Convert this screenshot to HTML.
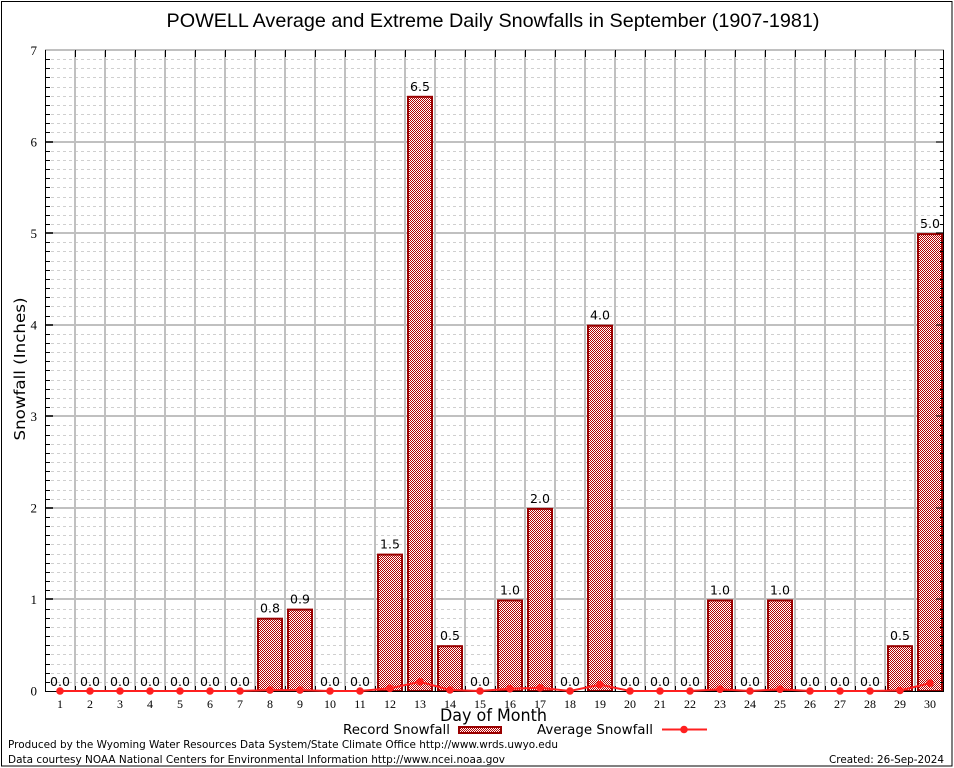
<!DOCTYPE html>
<html><head><meta charset="utf-8"><style>
html,body{margin:0;padding:0;background:#fff;}
svg{display:block;}
.t{font-family:"DejaVu Sans","Liberation Sans",sans-serif;}
.s{font-family:"Liberation Serif",serif;}
</style></head><body>
<svg width="954" height="768" viewBox="0 0 954 768" xmlns="http://www.w3.org/2000/svg">
<defs>
<pattern id="chk" width="2" height="2" patternUnits="userSpaceOnUse">
<rect width="2" height="2" fill="#fff"/>
<rect x="0" y="0" width="1" height="1" fill="#b40000"/>
<rect x="1" y="1" width="1" height="1" fill="#b40000"/>
</pattern>
</defs>
<rect x="0" y="0" width="954" height="768" fill="#fff"/>
<rect x="1.5" y="1.5" width="950.5" height="764.5" fill="none" stroke="#000" stroke-width="1"/>

<text x="493" y="27" class="t" style="font-family:'Liberation Sans',sans-serif" font-size="19.5" text-anchor="middle" textLength="653" lengthAdjust="spacingAndGlyphs">POWELL Average and Extreme Daily Snowfalls in September (1907-1981)</text>

<!-- minor dashed grid -->
<path stroke="#cfcfcf" stroke-width="1" stroke-dasharray="3,3" fill="none" d="
M45 682.5H944 M45 673.5H944 M45 664.5H944 M45 654.5H944 M45 645.5H944 M45 636.5H944 M45 627.5H944 M45 618.5H944 M45 609.5H944
M45 590.5H944 M45 581.5H944 M45 572.5H944 M45 563.5H944 M45 554.5H944 M45 544.5H944 M45 535.5H944 M45 526.5H944 M45 517.5H944
M45 499.5H944 M45 490.5H944 M45 480.5H944 M45 471.5H944 M45 462.5H944 M45 453.5H944 M45 444.5H944 M45 435.5H944 M45 425.5H944
M45 407.5H944 M45 398.5H944 M45 389.5H944 M45 380.5H944 M45 370.5H944 M45 361.5H944 M45 352.5H944 M45 343.5H944 M45 334.5H944
M45 316.5H944 M45 306.5H944 M45 297.5H944 M45 288.5H944 M45 279.5H944 M45 270.5H944 M45 261.5H944 M45 251.5H944 M45 242.5H944
M45 224.5H944 M45 215.5H944 M45 206.5H944 M45 197.5H944 M45 187.5H944 M45 178.5H944 M45 169.5H944 M45 160.5H944 M45 151.5H944
M45 132.5H944 M45 123.5H944 M45 114.5H944 M45 105.5H944 M45 96.5H944 M45 87.5H944 M45 77.5H944 M45 68.5H944 M45 59.5H944"/>
<!-- major horizontal grid -->
<path stroke="#c0c0c0" stroke-width="2" fill="none" d="M45 599H944 M45 508H944 M45 416H944 M45 325H944 M45 233H944 M45 142H944 M45 50H944"/>
<!-- vertical grid -->
<path stroke="#c0c0c0" stroke-width="2" fill="none" d="
M75 50V691 M105 50V691 M135 50V691 M165 50V691 M195 50V691 M225 50V691 M255 50V691 M285 50V691 M315 50V691 M345 50V691
M375 50V691 M405 50V691 M435 50V691 M465 50V691 M495 50V691 M525 50V691 M555 50V691 M585 50V691 M615 50V691 M645 50V691
M675 50V691 M705 50V691 M735 50V691 M765 50V691 M795 50V691 M825 50V691 M855 50V691 M885 50V691 M915 50V691"/>

<!-- bars -->
<g fill="url(#chk)" stroke="#990000" stroke-width="2">
<rect x="258" y="618.7" width="24" height="72.3"/>
<rect x="288" y="609.6" width="24" height="81.4"/>
<rect x="378" y="554.6" width="24" height="136.4"/>
<rect x="408" y="96.8" width="24" height="594.2"/>
<rect x="438" y="646.2" width="24" height="44.8"/>
<rect x="498" y="600.4" width="24" height="90.6"/>
<rect x="528" y="508.9" width="24" height="182.1"/>
<rect x="588" y="325.7" width="24" height="365.3"/>
<rect x="708" y="600.4" width="24" height="90.6"/>
<rect x="768" y="600.4" width="24" height="90.6"/>
<rect x="888" y="646.2" width="24" height="44.8"/>
<rect x="918" y="234.1" width="24" height="456.9"/>
</g>

<!-- axes -->
<g stroke="#000" stroke-width="1" fill="none">
<path d="M45.5 50V691.5 M943.5 50V691.5 M45 691.5H944"/>
<path d="M75.5 50V57 M105.5 50V57 M135.5 50V57 M165.5 50V57 M195.5 50V57 M225.5 50V57 M255.5 50V57 M285.5 50V57 M315.5 50V57 M345.5 50V57
M375.5 50V57 M405.5 50V57 M435.5 50V57 M465.5 50V57 M495.5 50V57 M525.5 50V57 M555.5 50V57 M585.5 50V57 M615.5 50V57 M645.5 50V57
M675.5 50V57 M705.5 50V57 M735.5 50V57 M765.5 50V57 M795.5 50V57 M825.5 50V57 M855.5 50V57 M885.5 50V57 M915.5 50V57"/>
<path d="M75.5 691V686 M105.5 691V686 M135.5 691V686 M165.5 691V686 M195.5 691V686 M225.5 691V686 M255.5 691V686 M285.5 691V686 M315.5 691V686 M345.5 691V686
M375.5 691V686 M405.5 691V686 M435.5 691V686 M465.5 691V686 M495.5 691V686 M525.5 691V686 M555.5 691V686 M585.5 691V686 M615.5 691V686 M645.5 691V686
M675.5 691V686 M705.5 691V686 M735.5 691V686 M765.5 691V686 M795.5 691V686 M825.5 691V686 M855.5 691V686 M885.5 691V686 M915.5 691V686"/>
<path stroke-width="1.5" d="M45 599H53 M45 508H53 M45 416H53 M45 325H53 M45 233H53 M45 142H53"/>
<path d="
M45 682.5H50 M45 673.5H50 M45 664.5H50 M45 654.5H50 M45 645.5H50 M45 636.5H50 M45 627.5H50 M45 618.5H50 M45 609.5H50
M45 590.5H50 M45 581.5H50 M45 572.5H50 M45 563.5H50 M45 554.5H50 M45 544.5H50 M45 535.5H50 M45 526.5H50 M45 517.5H50
M45 499.5H50 M45 490.5H50 M45 480.5H50 M45 471.5H50 M45 462.5H50 M45 453.5H50 M45 444.5H50 M45 435.5H50 M45 425.5H50
M45 407.5H50 M45 398.5H50 M45 389.5H50 M45 380.5H50 M45 370.5H50 M45 361.5H50 M45 352.5H50 M45 343.5H50 M45 334.5H50
M45 316.5H50 M45 306.5H50 M45 297.5H50 M45 288.5H50 M45 279.5H50 M45 270.5H50 M45 261.5H50 M45 251.5H50 M45 242.5H50
M45 224.5H50 M45 215.5H50 M45 206.5H50 M45 197.5H50 M45 187.5H50 M45 178.5H50 M45 169.5H50 M45 160.5H50 M45 151.5H50
M45 132.5H50 M45 123.5H50 M45 114.5H50 M45 105.5H50 M45 96.5H50 M45 87.5H50 M45 77.5H50 M45 68.5H50 M45 59.5H50
M944 682.5H940 M944 673.5H940 M944 664.5H940 M944 654.5H940 M944 645.5H940 M944 636.5H940 M944 627.5H940 M944 618.5H940 M944 609.5H940 M944 599H936
M944 590.5H940 M944 581.5H940 M944 572.5H940 M944 563.5H940 M944 554.5H940 M944 544.5H940 M944 535.5H940 M944 526.5H940 M944 517.5H940 M944 508H936
M944 499.5H940 M944 490.5H940 M944 480.5H940 M944 471.5H940 M944 462.5H940 M944 453.5H940 M944 444.5H940 M944 435.5H940 M944 425.5H940 M944 416H936
M944 407.5H940 M944 398.5H940 M944 389.5H940 M944 380.5H940 M944 370.5H940 M944 361.5H940 M944 352.5H940 M944 343.5H940 M944 334.5H940 M944 325H936
M944 316.5H940 M944 306.5H940 M944 297.5H940 M944 288.5H940 M944 279.5H940 M944 270.5H940 M944 261.5H940 M944 251.5H940 M944 242.5H940 M944 233H936
M944 224.5H940 M944 215.5H940 M944 206.5H940 M944 197.5H940 M944 187.5H940 M944 178.5H940 M944 169.5H940 M944 160.5H940 M944 151.5H940 M944 142H936
M944 132.5H940 M944 123.5H940 M944 114.5H940 M944 105.5H940 M944 96.5H940 M944 87.5H940 M944 77.5H940 M944 68.5H940 M944 59.5H940"/>
</g>

<!-- average line -->
<polyline fill="none" stroke="#ff2020" stroke-width="2" points="60,691 90,691 120,691 150,691 180,691 210,691 240,691 270,690.1 300,690.1 330,691 360,691 390,688.3 420,681.8 450,690 480,691 510,688.7 540,687.8 570,691 600,684.6 630,691 660,691 690,691 720,689.2 750,691 780,689.2 810,691 840,691 870,691 900,690.5 930,683.2"/>
<g fill="#ff2020">
<circle cx="60" cy="691" r="3.8"/><circle cx="90" cy="691" r="3.8"/><circle cx="120" cy="691" r="3.8"/><circle cx="150" cy="691" r="3.8"/><circle cx="180" cy="691" r="3.8"/><circle cx="210" cy="691" r="3.8"/><circle cx="240" cy="691" r="3.8"/><circle cx="270" cy="690.1" r="3.8"/><circle cx="300" cy="690.1" r="3.8"/><circle cx="330" cy="691" r="3.8"/><circle cx="360" cy="691" r="3.8"/><circle cx="390" cy="688.3" r="3.8"/><circle cx="420" cy="681.8" r="3.8"/><circle cx="450" cy="690" r="3.8"/><circle cx="480" cy="691" r="3.8"/><circle cx="510" cy="688.7" r="3.8"/><circle cx="540" cy="687.8" r="3.8"/><circle cx="570" cy="691" r="3.8"/><circle cx="600" cy="684.6" r="3.8"/><circle cx="630" cy="691" r="3.8"/><circle cx="660" cy="691" r="3.8"/><circle cx="690" cy="691" r="3.8"/><circle cx="720" cy="689.2" r="3.8"/><circle cx="750" cy="691" r="3.8"/><circle cx="780" cy="689.2" r="3.8"/><circle cx="810" cy="691" r="3.8"/><circle cx="840" cy="691" r="3.8"/><circle cx="870" cy="691" r="3.8"/><circle cx="900" cy="690.5" r="3.8"/><circle cx="930" cy="683.2" r="3.8"/>
</g>

<!-- value labels -->
<g class="t" font-size="12.5" text-anchor="middle" fill="#000">
<text x="60" y="686">0.0</text><text x="90" y="686">0.0</text><text x="120" y="686">0.0</text><text x="150" y="686">0.0</text><text x="180" y="686">0.0</text><text x="210" y="686">0.0</text><text x="240" y="686">0.0</text>
<text x="270" y="612.7">0.8</text><text x="300" y="603.6">0.9</text>
<text x="330" y="686">0.0</text><text x="360" y="686">0.0</text>
<text x="390" y="548.6">1.5</text><text x="420" y="90.8">6.5</text><text x="450" y="640.2">0.5</text>
<text x="480" y="686">0.0</text>
<text x="510" y="594.4">1.0</text><text x="540" y="502.9">2.0</text>
<text x="570" y="686">0.0</text>
<text x="600" y="319.7">4.0</text>
<text x="630" y="686">0.0</text><text x="660" y="686">0.0</text><text x="690" y="686">0.0</text>
<text x="720" y="594.4">1.0</text>
<text x="750" y="686">0.0</text>
<text x="780" y="594.4">1.0</text>
<text x="810" y="686">0.0</text><text x="840" y="686">0.0</text><text x="870" y="686">0.0</text>
<text x="900" y="640.2">0.5</text><text x="930" y="228.1">5.0</text>
</g>

<!-- y tick labels -->
<g class="s" font-size="13" text-anchor="end" fill="#000">
<text x="37" y="695.5">0</text><text x="37" y="604">1</text><text x="37" y="512.5">2</text><text x="37" y="421">3</text><text x="37" y="329.5">4</text><text x="37" y="238">5</text><text x="37" y="146.5">6</text><text x="37" y="55">7</text>
</g>
<!-- x tick labels -->
<g class="s" font-size="12" text-anchor="middle" fill="#000">
<text x="60" y="708">1</text><text x="90" y="708">2</text><text x="120" y="708">3</text><text x="150" y="708">4</text><text x="180" y="708">5</text><text x="210" y="708">6</text><text x="240" y="708">7</text><text x="270" y="708">8</text><text x="300" y="708">9</text><text x="330" y="708">10</text>
<text x="360" y="708">11</text><text x="390" y="708">12</text><text x="420" y="708">13</text><text x="450" y="708">14</text><text x="480" y="708">15</text><text x="510" y="708">16</text><text x="540" y="708">17</text><text x="570" y="708">18</text><text x="600" y="708">19</text><text x="630" y="708">20</text>
<text x="660" y="708">21</text><text x="690" y="708">22</text><text x="720" y="708">23</text><text x="750" y="708">24</text><text x="780" y="708">25</text><text x="810" y="708">26</text><text x="840" y="708">27</text><text x="870" y="708">28</text><text x="900" y="708">29</text><text x="930" y="708">30</text>
</g>

<text class="t" x="493.5" y="721" font-size="16.5" text-anchor="middle" textLength="107" lengthAdjust="spacingAndGlyphs">Day of Month</text>
<text class="t" transform="translate(25,369) rotate(-90)" font-size="15" text-anchor="middle" textLength="143" lengthAdjust="spacingAndGlyphs">Snowfall (Inches)</text>

<!-- legend -->
<text class="t" x="343" y="734" font-size="13" textLength="107" lengthAdjust="spacingAndGlyphs">Record Snowfall</text>
<rect x="459" y="727" width="42" height="6" fill="url(#chk)" stroke="#990000" stroke-width="2"/>
<text class="t" x="537" y="734" font-size="13" textLength="116" lengthAdjust="spacingAndGlyphs">Average Snowfall</text>
<line x1="662" y1="729.5" x2="707" y2="729.5" stroke="#ff2020" stroke-width="2"/>
<circle cx="684" cy="729.5" r="3.8" fill="#ff2020"/>

<!-- footer -->
<text class="t" x="8" y="748" font-size="11" textLength="550" lengthAdjust="spacingAndGlyphs">Produced by the Wyoming Water Resources Data System/State Climate Office http://www.wrds.uwyo.edu</text>
<text class="t" x="8" y="763" font-size="11" textLength="497" lengthAdjust="spacingAndGlyphs">Data courtesy NOAA National Centers for Environmental Information http://www.ncei.noaa.gov</text>
<text class="t" x="944" y="763" font-size="11" text-anchor="end" textLength="115" lengthAdjust="spacingAndGlyphs">Created: 26-Sep-2024</text>
</svg>
</body></html>
